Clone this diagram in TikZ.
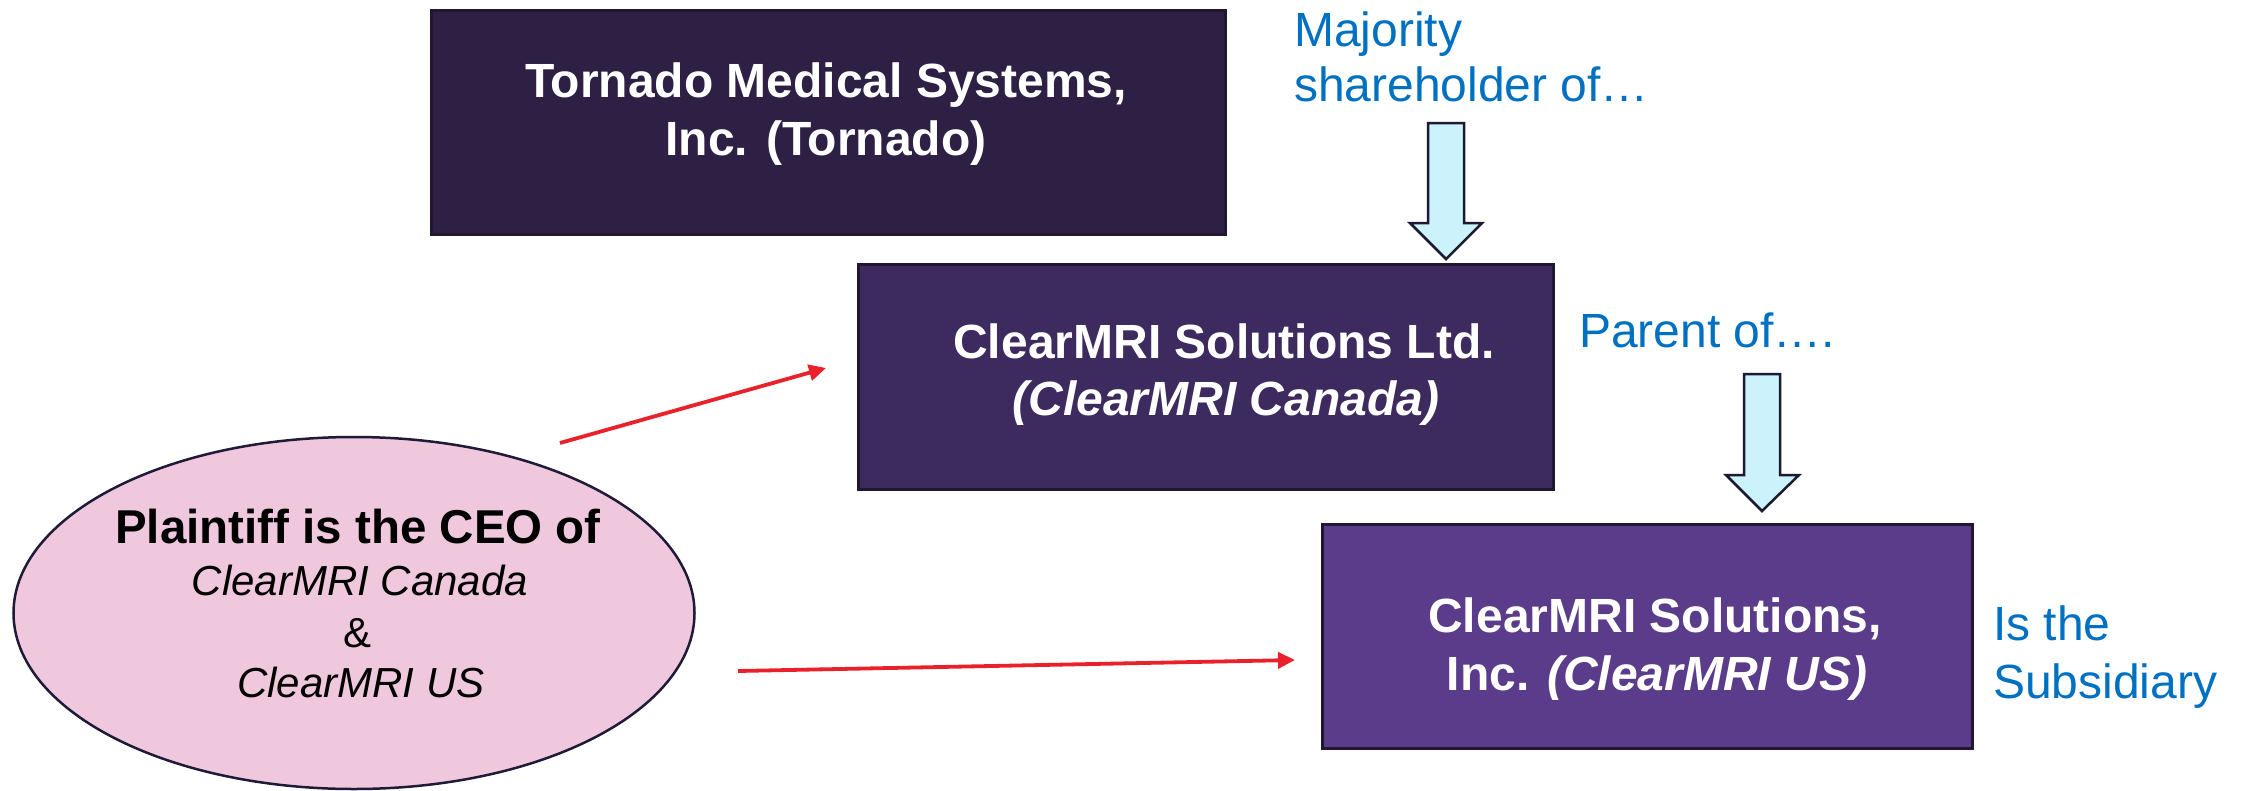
\documentclass[tikz,border=0pt]{standalone}
\usepackage{fontspec}
\setmainfont{Liberation Sans}
\usetikzlibrary{arrows.meta,shapes.geometric}

\definecolor{tornadoFill}{HTML}{2E1F45}
\definecolor{canadaFill}{HTML}{3D2A5E}
\definecolor{usFill}{HTML}{5A3C8A}
\definecolor{boxEdge}{HTML}{221731}
\definecolor{ceoFill}{HTML}{F0C8DE}
\definecolor{ceoEdge}{HTML}{1E1A38}
\definecolor{noteBlue}{HTML}{0070C0}
\definecolor{linkRed}{HTML}{E8212A}
\definecolor{shaftFill}{HTML}{CCF2FC}
\definecolor{shaftEdge}{HTML}{1A1A30}

\tikzset{
  corpbox/.style={draw=boxEdge, line width=3pt, rectangle, inner sep=0pt, anchor=north west},
  boxtext/.style={text=white, font=\fontsize{48}{58}\selectfont\bfseries, anchor=base, inner sep=0pt},
  ceotext/.style={text=black, font=\fontsize{42}{50}\selectfont, anchor=base, inner sep=0pt},
  note/.style={text=noteBlue, font=\fontsize{48}{56}\selectfont, anchor=base west, inner sep=0pt},
  ownership/.style={draw=shaftEdge, fill=shaftFill, line width=2.5pt, line join=miter},
  ceolink/.style={draw=linkRed, line width=3.8pt, -{Triangle[length=17pt,width=16pt]}}
}

\begin{document}
\begin{tikzpicture}[x=1pt,y=-1pt]
\useasboundingbox (0,0) rectangle (2241,790);

% company boxes
\node[corpbox, fill=tornadoFill, minimum width=794pt, minimum height=224pt] (tornado) at (430,9) {};
\node[corpbox, fill=canadaFill, minimum width=695pt, minimum height=225pt] (canada) at (857,263) {};
\node[corpbox, fill=usFill, minimum width=650pt, minimum height=224pt] (us) at (1321,523) {};

\node[boxtext] (tornadoL1) at (826,97) {Tornado Medical Systems,};
\node[boxtext] (tornadoL2) at (826,155) {Inc. (Tornado)};

\node[boxtext] (canadaL1) at (1224,358) {ClearMRI Solutions Ltd.};
\node[boxtext] (canadaL2) at (1226,415) {\itshape (ClearMRI Canada)};

\node[boxtext] (usL1) at (1655,632) {ClearMRI Solutions,};
\node[boxtext] (usL2) at (1657,690) {Inc. \itshape(ClearMRI US)};

% plaintiff ellipse
\node[ellipse, draw=ceoEdge, fill=ceoFill, line width=2.5pt, minimum width=681pt, minimum height=352pt, inner sep=0pt] (ceo) at (354,613) {};
\node[ceotext, font=\fontsize{47.5}{54}\selectfont\bfseries] (ceoL1) at (358,543) {Plaintiff is the CEO of};
\node[ceotext, font=\fontsize{42}{50}\selectfont\itshape] (ceoL2) at (360,595) {ClearMRI Canada};
\node[ceotext] (ceoL3) at (358,647) {\&};
\node[ceotext, font=\fontsize{42}{50}\selectfont\itshape] (ceoL4) at (361,697) {ClearMRI US};

% relationship notes
\node[note] (majA) at (1294,46) {Majority};
\node[note] (majB) at (1294,101) {shareholder of…};
\node[note] (parent) at (1579,347) {Parent of….};
\node[note] (subA) at (1993,640) {Is the};
\node[note] (subB) at (1993,698) {Subsidiary};

% ownership block arrows
\draw[ownership] (1428,123) -- (1464,123) -- (1464,223) -- (1482,223) -- (1446,259)
  -- (1410,223) -- (1428,223) -- cycle;
\draw[ownership] (1744,374) -- (1780,374) -- (1780,475) -- (1799,475) -- (1762,511)
  -- (1726,475) -- (1744,475) -- cycle;

% CEO links
\coordinate (linkAfrom) at (560,443);
\coordinate (linkAto) at (826,368);
\coordinate (linkBfrom) at (738,671);
\coordinate (linkBto) at (1295,660);
\draw[ceolink] (linkAfrom) -- (linkAto);
\draw[ceolink] (linkBfrom) -- (linkBto);
\end{tikzpicture}
\end{document}
